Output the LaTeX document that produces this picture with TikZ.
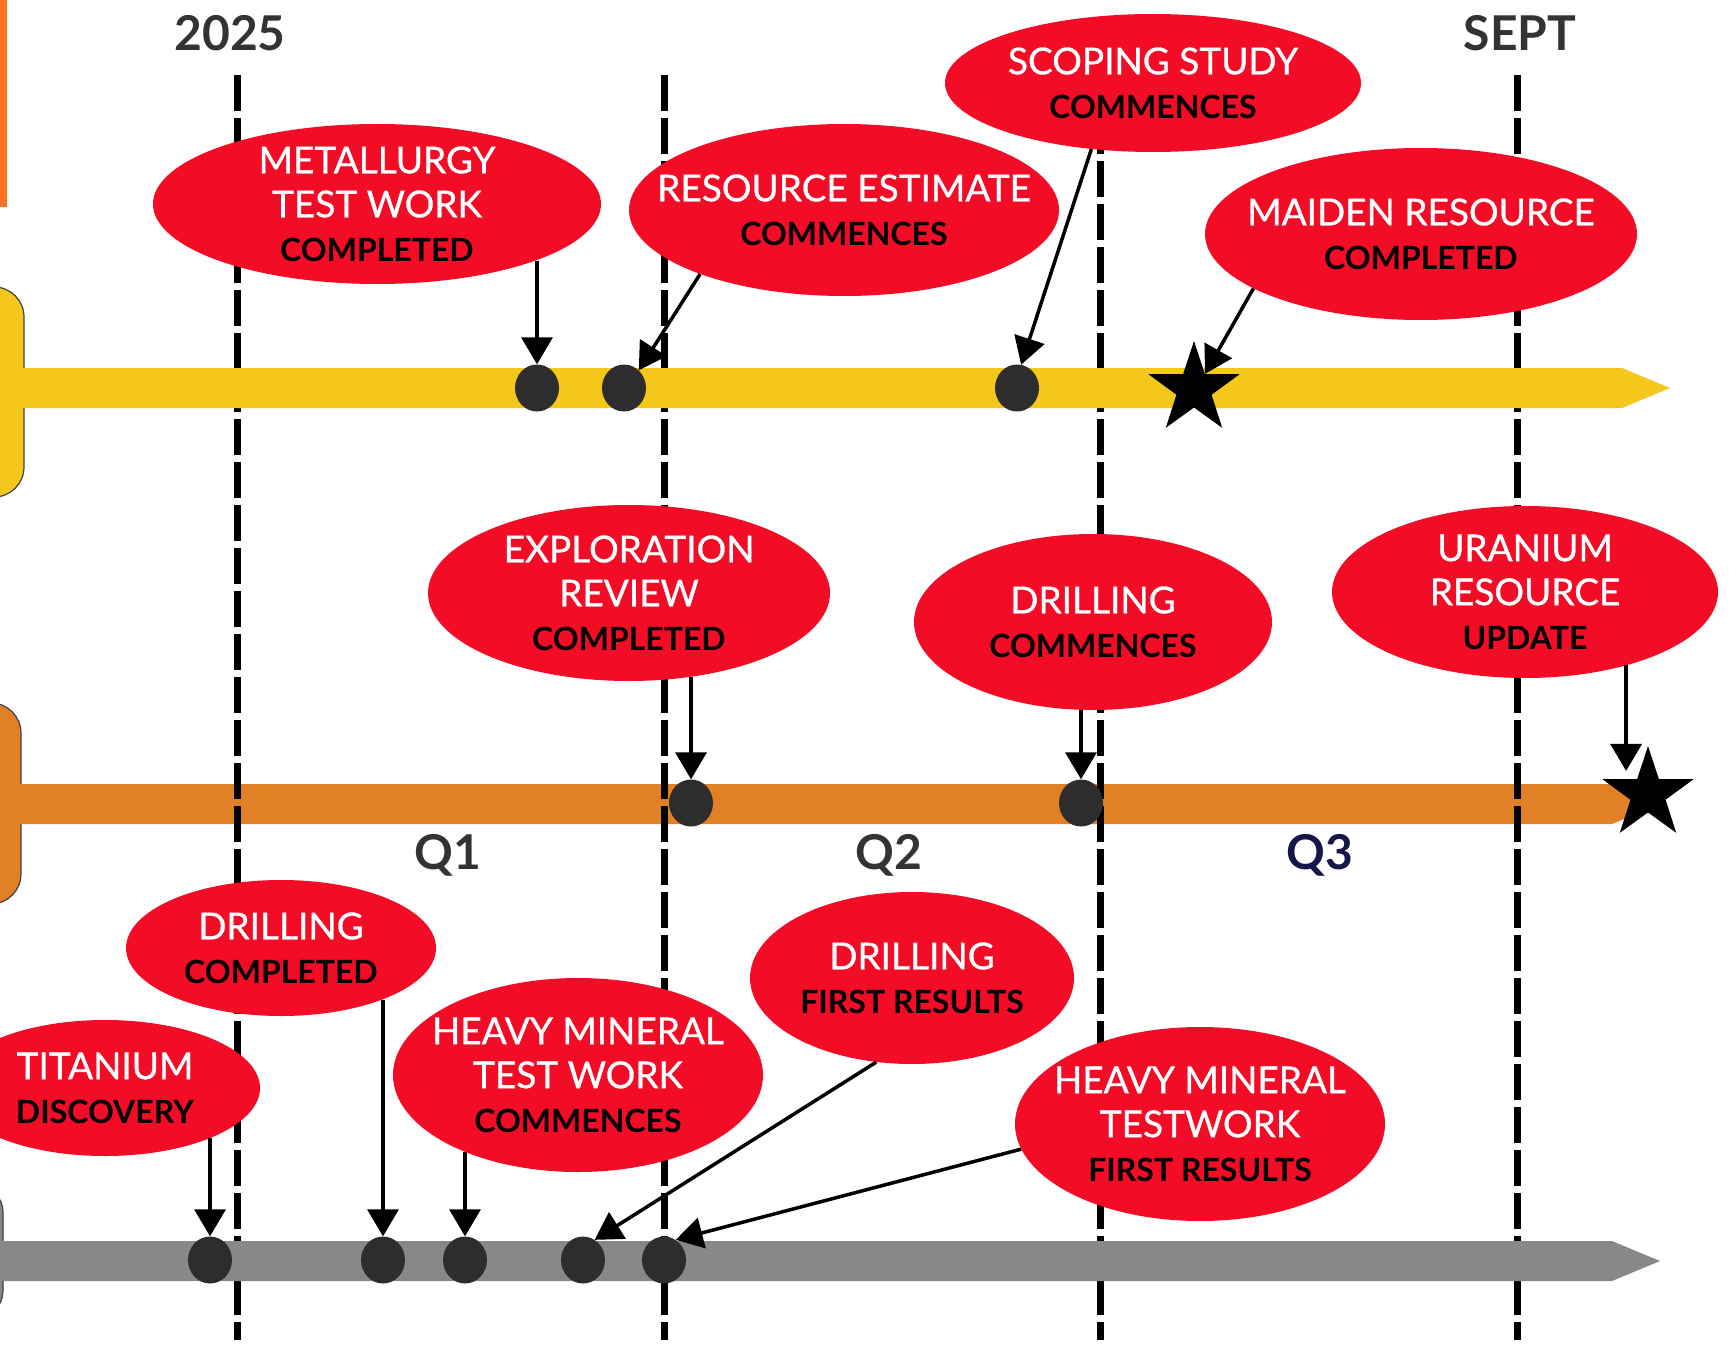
\documentclass[tikz,border=0pt]{standalone}
\usepackage{fontspec}
\setmainfont{Lato}
\newfontfamily\evfont[FakeBold=0.8]{Lato}
\usetikzlibrary{arrows.meta,shapes.geometric}

\newcommand\blk[1]{\textcolor{black}{\fontsize{32}{44}\selectfont\normalfont\bfseries #1}}

\begin{document}
\begin{tikzpicture}[
    evt/.style={ellipse, fill=evtRed, inner sep=0pt},
    wtxt/.style={text=white, align=center, font=\fontsize{37}{44}\selectfont\evfont},
    evdot/.style={ellipse, fill=dotGrey, minimum width=44pt, minimum height=47pt, inner sep=0pt},
    mstar/.style={star, star points=5, star point ratio=2.6, minimum size=96pt, inner sep=0pt, fill=black},
    arr/.style={line width=3.5pt, -{Triangle[width=31pt,length=27pt]}},
    qline/.style={line width=7pt, dash pattern=on 36pt off 7pt},
    head/.style={font=\fontsize{48}{52}\selectfont\bfseries, text=headGrey}
  ]
  \definecolor{evtRed}{RGB}{242, 12, 38}
  \definecolor{dotGrey}{RGB}{45, 45, 45}
  \definecolor{headGrey}{RGB}{51, 51, 51}
  \definecolor{qNavy}{RGB}{22, 22, 72}
  \definecolor{barYellow}{RGB}{243, 200, 27}
  \definecolor{barOrange}{RGB}{226, 128, 37}
  \definecolor{barGrey}{RGB}{136, 136, 136}
  \definecolor{stripOrange}{RGB}{255, 112, 32}

  \useasboundingbox (0pt, 0pt) rectangle (1729pt, -1348pt);
  \clip (0pt, 0pt) rectangle (1729pt, -1348pt);

  % side boxes
  \fill[stripOrange] (0pt, 0pt) rectangle (7pt, -207pt);
  \draw[fill=barYellow, draw=black!75, line width=1.2pt, rounded corners=30pt] (-60pt, -287pt) rectangle (24pt, -497pt);
  \draw[fill=barOrange, draw=black!75, line width=1.2pt, rounded corners=30pt] (-60pt, -703pt) rectangle (21pt, -904pt);
  \draw[fill=barGrey, draw=black!75, line width=1.2pt, rounded corners=30pt] (-60pt, -1183pt) rectangle (3pt, -1320pt);

  % time bars
  \fill[barOrange] (0pt, -784pt) -- (1612pt, -784pt) -- (1660pt, -804pt) -- (1612pt, -824pt) -- (0pt, -824pt) -- cycle;
  \foreach \qx in {237, 664, 1100, 1517}
    \draw[qline] (\qx pt, -75pt) -- (\qx pt, -1340pt);
  \fill[barYellow] (0pt, -368pt) -- (1622pt, -368pt) -- (1670pt, -388pt) -- (1622pt, -408pt) -- (0pt, -408pt) -- cycle;
  \fill[barGrey] (0pt, -1241pt) -- (1612pt, -1241pt) -- (1660pt, -1261pt) -- (1612pt, -1281pt) -- (0pt, -1281pt) -- cycle;

  \node[head] (y2025) at (230pt, -33pt) {2025};
  \node[head] (sept) at (1520pt, -33pt) {SEPT};
  \node[head] (q1) at (448pt, -855pt) {Q1};
  \node[head] (q2) at (889pt, -855pt) {Q2};
  \node[head, text=qNavy] (q3) at (1320pt, -855pt) {Q3};

  % events
  \node[evt, minimum width=448pt, minimum height=160pt, label={[wtxt]center:{METALLURGY\\TEST WORK\\\blk{COMPLETED}}}] (metal) at (377pt, -204pt) {};
  \node[evt, minimum width=430pt, minimum height=172pt, label={[wtxt]center:{RESOURCE ESTIMATE\\\blk{COMMENCES}}}] (resest) at (844pt, -210pt) {};
  \node[evt, minimum width=416pt, minimum height=138pt, label={[wtxt]center:{SCOPING STUDY\\\blk{COMMENCES}}}] (scoping) at (1153pt, -83pt) {};
  \node[evt, minimum width=432pt, minimum height=172pt, label={[wtxt]center:{MAIDEN RESOURCE\\\blk{COMPLETED}}}] (maiden) at (1421pt, -234pt) {};
  \node[evt, minimum width=402pt, minimum height=176pt, label={[wtxt]center:{EXPLORATION\\REVIEW\\\blk{COMPLETED}}}] (explor) at (629pt, -593pt) {};
  \node[evt, minimum width=358pt, minimum height=176pt, label={[wtxt]center:{DRILLING\\\blk{COMMENCES}}}] (drillcom) at (1093pt, -622pt) {};
  \node[evt, minimum width=386pt, minimum height=172pt, label={[wtxt]center:{URANIUM\\RESOURCE\\\blk{UPDATE}}}] (uranium) at (1525pt, -592pt) {};
  \node[evt, minimum width=310pt, minimum height=136pt, label={[wtxt]center:{DRILLING\\\blk{COMPLETED}}}] (drillcpl) at (281pt, -948pt) {};
  \node[evt, minimum width=310pt, minimum height=136pt, label={[wtxt]center:{TITANIUM\\\blk{DISCOVERY}}}] (titan) at (105pt, -1088pt) {};
  \node[evt, minimum width=370pt, minimum height=194pt, label={[wtxt]center:{HEAVY MINERAL\\TEST WORK\\\blk{COMMENCES}}}] (hmcomm) at (578pt, -1075pt) {};
  \node[evt, minimum width=324pt, minimum height=172pt, label={[wtxt]center:{DRILLING\\\blk{FIRST RESULTS}}}] (drillres) at (912pt, -978pt) {};
  \node[evt, minimum width=370pt, minimum height=194pt, label={[wtxt]center:{HEAVY MINERAL\\TESTWORK\\\blk{FIRST RESULTS}}}] (hmres) at (1200pt, -1124pt) {};

  % milestones
  \node[evdot] (y1) at (537pt, -388pt) {};
  \node[evdot] (y2) at (624pt, -388pt) {};
  \node[evdot] (y3) at (1017pt, -388pt) {};
  \node[mstar] (ystar) at (1194pt, -389pt) {};
  \node[evdot] (o1) at (691pt, -803pt) {};
  \node[evdot] (o2) at (1081pt, -803pt) {};
  \node[mstar] (ostar) at (1648pt, -794pt) {};
  \node[evdot] (g1) at (210pt, -1260pt) {};
  \node[evdot] (g2) at (383pt, -1260pt) {};
  \node[evdot] (g3) at (465pt, -1260pt) {};
  \node[evdot] (g4) at (583pt, -1260pt) {};
  \node[evdot] (g5) at (664pt, -1260pt) {};

  \draw[arr] (y1 |- metal.-20) -- (y1.north);
  \draw[arr] (resest.204) -- (y2.50);
  \draw[arr] (scoping.227) -- (y3.80);
  \draw[arr] (maiden.198) -- (ystar.54);
  \draw[arr] (o1 |- explor.-54) -- (o1.north);
  \draw[arr] (o2 |- drillcom.south) -- (o2.north);
  \draw[arr] (uranium.-36) -- (uranium.-36 |- ostar.110);
  \draw[arr] (g1 |- titan.-25) -- (g1.north);
  \draw[arr] (g2 |- drillcpl.-27) -- (g2.north);
  \draw[arr] (g3 |- hmcomm.214) -- (g3.north);
  \draw[arr] (drillres.247) -- (g4.60);
  \draw[arr] (hmres.188) -- (g5.60);
\end{tikzpicture}
\end{document}
